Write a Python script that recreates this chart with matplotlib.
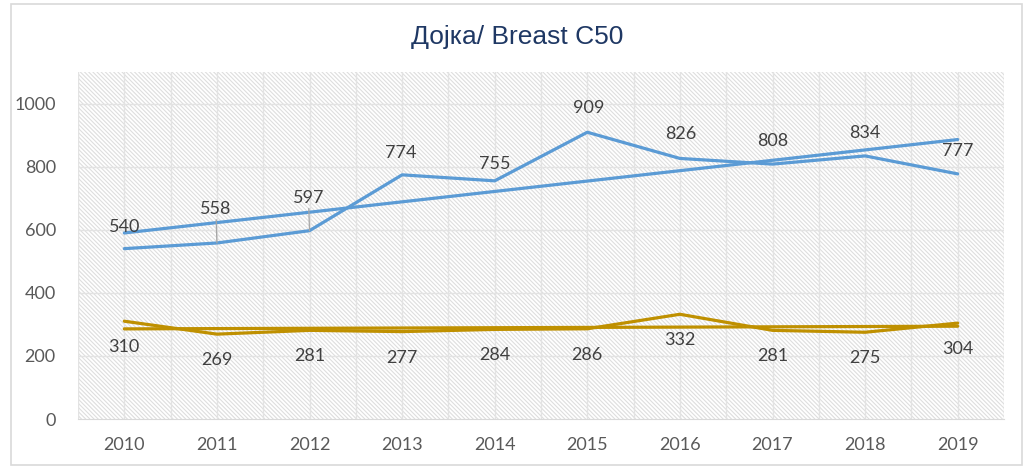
import matplotlib
matplotlib.use("Agg")
import matplotlib.pyplot as plt
from matplotlib.patches import Rectangle
import numpy as np

# ---- data ----
years = ["2010", "2011", "2012", "2013", "2014", "2015", "2016", "2017", "2018", "2019"]
series_blue = [540, 558, 597, 774, 755, 909, 826, 808, 834, 777]
series_gold = [310, 269, 281, 277, 284, 286, 332, 281, 275, 304]
title = "Дојка/ Breast C50"
yticks = [0, 200, 400, 600, 800, 1000]

BLUE = "#5B9BD5"
GOLD = "#BF9000"
GRID = "#E3E3E3"

plt.rcParams["font.family"] = ["Lato", "DejaVu Sans"]
plt.rcParams["hatch.linewidth"] = 0.8

fig = plt.figure(figsize=(10.26, 4.66), dpi=100)
ax = fig.add_axes([78 / 1026, 47 / 466, 926 / 1026, 347 / 466])

x = np.arange(len(years))

# hatched background
bg = Rectangle((0, 0), 1, 1, transform=ax.transAxes, facecolor="white",
               edgecolor="#DEDEDE", hatch="\\" * 8, linewidth=0, zorder=0)
ax.add_patch(bg)

ax.set_xlim(-0.5, len(years) - 0.5)
ax.set_ylim(0, 1100)

# grid
for yv in yticks[1:]:
    ax.axhline(yv, color=GRID, lw=1.0, zorder=1)
for xv in np.arange(-0.5, len(years), 0.5):
    ax.axvline(xv, color=GRID, lw=1.0, zorder=1)

# trendlines (least-squares)
for ys, col in ((series_blue, BLUE), (series_gold, GOLD)):
    k, b = np.polyfit(x, ys, 1)
    ax.plot(x, k * x + b, color=col, lw=2.3, zorder=3, solid_capstyle="round")

ax.plot(x, series_blue, color=BLUE, lw=2.3, zorder=4, solid_capstyle="round")
ax.plot(x, series_gold, color=GOLD, lw=2.3, zorder=4, solid_capstyle="round")

# labels
blue_off = [(0, 22), (-1, 34), (-1, 33), (-1, 22), (0, 17), (1, 24), (1, 24), (0, 23), (0, 23), (0, 23)]
leaders = [False, True, True, False, False, False, False, False, False, False]
for i, v in enumerate(series_blue):
    dx, dy = blue_off[i]
    kw = {}
    if leaders[i]:
        kw["arrowprops"] = dict(arrowstyle="-", color="#A6A6A6", lw=0.9,
                                shrinkA=0, shrinkB=0)
    ax.annotate(str(v), (x[i], v), xytext=(dx * 0.72, dy * 0.72),
                textcoords="offset points", ha="center", va="center",
                fontsize=13, color="#404040", zorder=5, **kw)
for i, v in enumerate(series_gold):
    ax.annotate(str(v), (x[i], v), xytext=(0, -26 * 0.72),
                textcoords="offset points", ha="center", va="center",
                fontsize=13, color="#404040", zorder=5)

ax.set_xticks(x)
ax.set_xticklabels(years)
ax.set_yticks(yticks)
ax.tick_params(axis="both", length=0, labelsize=13, colors="#595959")
ax.tick_params(axis="x", pad=13)
ax.tick_params(axis="y", pad=16)
for s in ("top", "right", "left"):
    ax.spines[s].set_visible(False)
ax.spines["bottom"].set_color("#D9D9D9")
ax.spines["bottom"].set_zorder(2)

fig.text(517 / 1026, 1 - 37 / 466, title, ha="center", va="center",
         fontsize=19, color="#1F3864",
         family=["Liberation Sans Narrow", "Liberation Sans", "DejaVu Sans"])

# chart border
fig.patches.append(Rectangle((11 / 1026, 1 / 466), 1011 / 1026, 461 / 466,
                             transform=fig.transFigure, fill=False,
                             edgecolor="#D9D9D9", lw=1.2))

fig.savefig("out.png", dpi=100)
